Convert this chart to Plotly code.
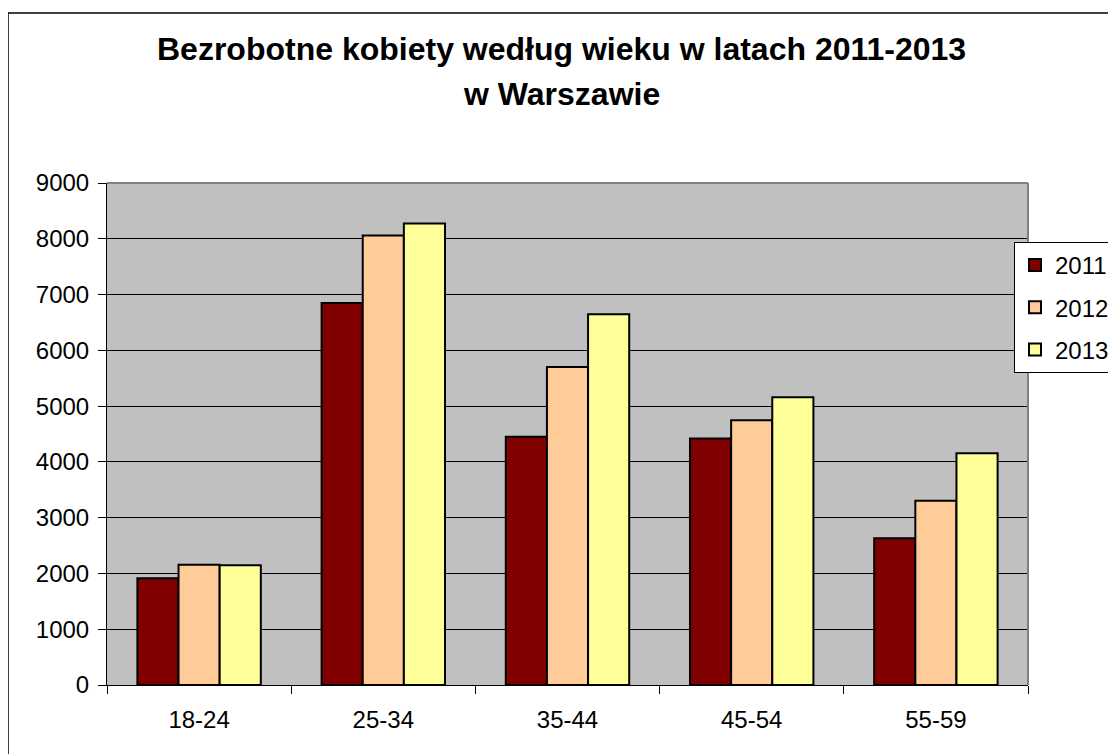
import plotly.graph_objects as go

categories = ["18-24", "25-34", "35-44", "45-54", "55-59"]
years = ["2011", "2012", "2013"]
values_2011 = [1915, 6850, 4450, 4420, 2630]
values_2012 = [2155, 8060, 5700, 4745, 3305]
values_2013 = [2145, 8275, 6645, 5160, 4155]
y_ticks = [0, 1000, 2000, 3000, 4000, 5000, 6000, 7000, 8000, 9000]

title_line1 = "Bezrobotne kobiety według wieku w latach 2011-2013"
title_line2 = "w Warszawie"

colors = ["#800000", "#FFCC99", "#FFFF99"]
series = [values_2011, values_2012, values_2013]

FONT = "Liberation Sans, Arial, sans-serif"
OFF = 8  # page body margin
W, H = 1116, 754
# target page-pixel plot box: x 107..1028, y 183..685
L, T = 107 - OFF, 183 - OFF
pw, ph = 1028 - 107, 685 - 183
R = W - L - pw
B = H - T - ph


def px_x(p):
    return (p - OFF - L) / pw


def px_y(p):
    return (T + ph - (p - OFF)) / ph


fig = go.Figure()
for name, vals, col in zip(years, series, colors):
    fig.add_trace(go.Bar(
        x=categories, y=vals, name=name, legendgroup=name,
        marker=dict(color=col, line=dict(color="#000000", width=2)),
    ))

fig.update_layout(
    width=W, height=H,
    margin=dict(l=L, r=R, t=T, b=B, autoexpand=False),
    paper_bgcolor="white", plot_bgcolor="#C0C0C0",
    barmode="group", bargap=0.33, bargroupgap=0,
    font=dict(family=FONT, size=24, color="#000000"),
    showlegend=True,
    legend=dict(
        x=px_x(1014), y=px_y(242), xanchor="left", yanchor="top",
        bgcolor="white", bordercolor="#000000", borderwidth=1,
        font=dict(family=FONT, size=24, color="#000000"),
        tracegroupgap=8, itemclick=False,
    ),
    xaxis=dict(
        showgrid=False, showline=True, linecolor="#000000", linewidth=1,
        ticks="outside", tickson="boundaries", ticklen=8, tickcolor="#000000",
        tickfont=dict(family=FONT, size=24), ticklabelstandoff=13,
        fixedrange=True,
    ),
    yaxis=dict(
        range=[0, 9000], tickvals=y_ticks, showgrid=True, gridcolor="#000000",
        gridwidth=1, showline=True, linecolor="#000000", linewidth=1,
        ticks="outside", ticklen=8, tickcolor="#000000", zeroline=False,
        tickfont=dict(family=FONT, size=24), ticklabelstandoff=4,
        fixedrange=True,
    ),
    annotations=[
        dict(text="<b>" + title_line1 + "</b>", xref="paper", yref="paper",
             x=px_x(561.5), y=px_y(49), xanchor="center", yanchor="middle",
             showarrow=False, font=dict(family=FONT, size=32, color="#000000")),
        dict(text="<b>" + title_line2 + "</b>", xref="paper", yref="paper",
             x=px_x(561.5), y=px_y(94), xanchor="center", yanchor="middle",
             showarrow=False, font=dict(family=FONT, size=32, color="#000000")),
    ],
    shapes=[
        dict(type="line", xref="paper", yref="paper", x0=0, x1=1, y0=1, y1=1,
             line=dict(color="#808080", width=2), layer="above"),
        dict(type="line", xref="paper", yref="paper", x0=1, x1=1, y0=0, y1=1,
             line=dict(color="#808080", width=2), layer="above"),
        dict(type="rect", xref="paper", yref="paper",
             x0=px_x(8), x1=px_x(1130), y0=px_y(770), y1=px_y(13),
             line=dict(color="#000000", width=1.5), layer="below"),
    ],
)

fig.write_html("out.html")
